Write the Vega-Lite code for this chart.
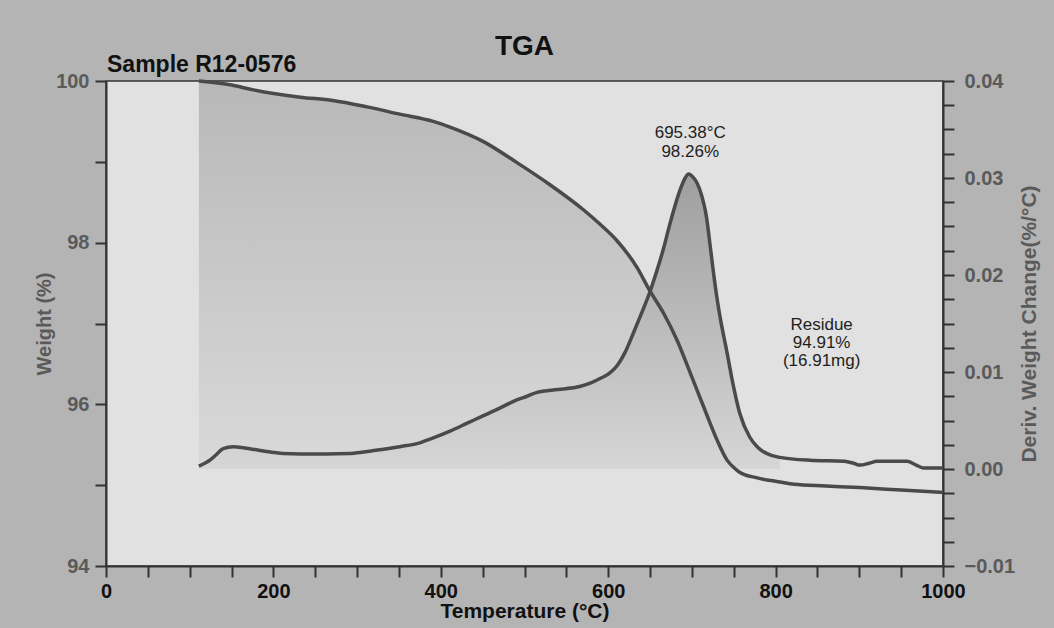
{
  "$schema": "https://vega.github.io/schema/vega-lite/v6.json",
  "width": 837,
  "height": 485,
  "autosize": {"type": "none"},
  "padding": {"left": 106, "top": 81, "right": 111, "bottom": 62},
  "background": "#b4b4b4",
  "config": {
    "view": {"fill": "#e1e1e1", "stroke": "#333333", "strokeWidth": 1.5},
    "font": "Liberation Sans"
  },
  "title": {
    "text": "TGA",
    "font": "Liberation Sans",
    "fontSize": 28,
    "fontWeight": "bold",
    "color": "#111111",
    "anchor": "middle",
    "frame": "group",
    "offset": -7
  },
  "datasets": {
    "tga": [
      {"T": 111, "W": 100.0},
      {"T": 150, "W": 99.95},
      {"T": 176, "W": 99.89},
      {"T": 232, "W": 99.8},
      {"T": 271, "W": 99.76},
      {"T": 312, "W": 99.68},
      {"T": 351, "W": 99.59},
      {"T": 391, "W": 99.5},
      {"T": 411, "W": 99.43},
      {"T": 451, "W": 99.25},
      {"T": 491, "W": 98.99},
      {"T": 530, "W": 98.72},
      {"T": 570, "W": 98.41},
      {"T": 590, "W": 98.23},
      {"T": 610, "W": 98.03},
      {"T": 634, "W": 97.7},
      {"T": 650, "W": 97.4},
      {"T": 666, "W": 97.13},
      {"T": 682, "W": 96.8},
      {"T": 698, "W": 96.39},
      {"T": 714, "W": 95.97},
      {"T": 730, "W": 95.56},
      {"T": 742, "W": 95.31},
      {"T": 752, "W": 95.2},
      {"T": 757, "W": 95.16},
      {"T": 778, "W": 95.09},
      {"T": 805, "W": 95.04},
      {"T": 822, "W": 95.01},
      {"T": 860, "W": 94.99},
      {"T": 901, "W": 94.97},
      {"T": 950, "W": 94.94},
      {"T": 1000, "W": 94.91}
    ],
    "deriv": [
      {"T": 111, "D": 0.0003},
      {"T": 118, "D": 0.0006},
      {"T": 124, "D": 0.0009},
      {"T": 132, "D": 0.0015},
      {"T": 140, "D": 0.0021},
      {"T": 152, "D": 0.0023},
      {"T": 164, "D": 0.0022},
      {"T": 178, "D": 0.002},
      {"T": 192, "D": 0.0018},
      {"T": 212, "D": 0.0016},
      {"T": 232, "D": 0.00155},
      {"T": 262, "D": 0.00155},
      {"T": 292, "D": 0.0016},
      {"T": 320, "D": 0.0019},
      {"T": 351, "D": 0.0023},
      {"T": 375, "D": 0.0027},
      {"T": 391, "D": 0.0032},
      {"T": 411, "D": 0.0039},
      {"T": 431, "D": 0.0047},
      {"T": 451, "D": 0.0055},
      {"T": 471, "D": 0.0063},
      {"T": 490, "D": 0.0071},
      {"T": 503, "D": 0.0075},
      {"T": 515, "D": 0.0079},
      {"T": 540, "D": 0.0082},
      {"T": 566, "D": 0.0085},
      {"T": 580, "D": 0.0089},
      {"T": 592, "D": 0.0094},
      {"T": 602, "D": 0.0099},
      {"T": 611, "D": 0.0107},
      {"T": 620, "D": 0.012},
      {"T": 630, "D": 0.014},
      {"T": 640, "D": 0.0161},
      {"T": 650, "D": 0.0183},
      {"T": 658, "D": 0.0204},
      {"T": 666, "D": 0.0227},
      {"T": 672, "D": 0.0247},
      {"T": 678, "D": 0.0266},
      {"T": 686, "D": 0.0288},
      {"T": 692, "D": 0.03},
      {"T": 696, "D": 0.0304},
      {"T": 700, "D": 0.0302},
      {"T": 706, "D": 0.0295},
      {"T": 712, "D": 0.0281},
      {"T": 717, "D": 0.0262},
      {"T": 722, "D": 0.0229},
      {"T": 726, "D": 0.0201},
      {"T": 730, "D": 0.0176},
      {"T": 734, "D": 0.0155},
      {"T": 742, "D": 0.012},
      {"T": 749, "D": 0.0088},
      {"T": 757, "D": 0.0058},
      {"T": 769, "D": 0.0033},
      {"T": 778, "D": 0.0023},
      {"T": 785, "D": 0.0018},
      {"T": 795, "D": 0.0014},
      {"T": 805, "D": 0.0012},
      {"T": 841, "D": 0.0009},
      {"T": 882, "D": 0.0008},
      {"T": 893, "D": 0.0006},
      {"T": 901, "D": 0.0004},
      {"T": 912, "D": 0.0006},
      {"T": 921, "D": 0.0008},
      {"T": 957, "D": 0.0008},
      {"T": 968, "D": 0.0004},
      {"T": 977, "D": 0.0001},
      {"T": 1000, "D": 0.0001}
    ],
    "notes": [
      {"T": 698, "D": 0.03464, "label": "695.38°C"},
      {"T": 698, "D": 0.03273, "label": "98.26%"},
      {"T": 855, "D": 0.01485, "label": "Residue"},
      {"T": 855, "D": 0.01299, "label": "94.91%"},
      {"T": 855, "D": 0.01113, "label": "(16.91mg)"}
    ],
    "header": [
      {"T": 0, "W": 100, "label": "Sample R12-0576"}
    ]
  },
  "encoding": {
    "x": {
      "field": "T",
      "type": "quantitative",
      "scale": {"domain": [0, 1000], "nice": false, "zero": false},
      "axis": {
        "title": "Temperature (°C)",
        "values": [0, 50, 100, 150, 200, 250, 300, 350, 400, 450, 500, 550, 600, 650, 700, 750, 800, 850, 900, 950, 1000],
        "format": "d",
        "labelExpr": "datum.value % 200 === 0 ? datum.label : ''",
        "labelOverlap": false,
        "labelFlush": false,
        "grid": false,
        "domainColor": "#333333",
        "domainWidth": 2,
        "tickColor": "#333333",
        "tickWidth": 2,
        "tickSize": 11,
        "labelFont": "Liberation Sans",
        "labelFontSize": 20,
        "labelFontWeight": "bold",
        "labelColor": "#111111",
        "labelPadding": 4,
        "titleFont": "Liberation Sans",
        "titleFontSize": 21,
        "titleFontWeight": "bold",
        "titleColor": "#111111",
        "titlePadding": -1
      }
    }
  },
  "layer": [
    {
      "data": {"name": "tga"},
      "transform": [{"filter": "datum.T <= 752"}],
      "mark": {
        "type": "area",
        "interpolate": "monotone",
        "color": {
          "gradient": "linear",
          "x1": 0, "y1": 0, "x2": 0, "y2": 1,
          "stops": [
            {"offset": 0, "color": "#b8b8b8"},
            {"offset": 1, "color": "#d9d9d9"}
          ]
        }
      },
      "encoding": {
        "y": {"field": "W", "type": "quantitative", "scale": {"domain": [94, 100], "nice": false, "zero": false}, "axis": null},
        "y2": {"datum": 95.2}
      }
    },
    {
      "data": {"name": "deriv"},
      "transform": [{"filter": "datum.T <= 805"}],
      "mark": {
        "type": "area",
        "interpolate": "monotone",
        "color": {
          "gradient": "linear",
          "x1": 0, "y1": 0, "x2": 0, "y2": 1,
          "stops": [
            {"offset": 0, "color": "#9f9f9f"},
            {"offset": 1, "color": "#d6d6d6"}
          ]
        }
      },
      "encoding": {
        "y": {"field": "D", "type": "quantitative", "scale": {"domain": [-0.01, 0.04], "nice": false, "zero": false}, "axis": null},
        "y2": {"datum": 0}
      }
    },
    {
      "data": {"name": "tga"},
      "mark": {"type": "line", "interpolate": "monotone", "color": "#4a4a4a", "strokeWidth": 3.5},
      "encoding": {
        "y": {
          "field": "W",
          "type": "quantitative",
          "scale": {"domain": [94, 100], "nice": false, "zero": false},
          "axis": {
            "orient": "left",
            "title": "Weight (%)",
            "values": [94, 94.5, 95, 95.5, 96, 96.5, 97, 97.5, 98, 98.5, 99, 99.5, 100],
            "format": "d",
            "labelExpr": "datum.value % 2 === 0 ? datum.label : ''",
            "labelOverlap": false,
            "labelFlush": false,
            "grid": false,
            "domainColor": "#333333",
            "domainWidth": 2,
            "tickColor": "#333333",
            "tickWidth": 2,
            "tickSize": 11,
            "labelFont": "Liberation Sans",
            "labelFontSize": 20,
            "labelFontWeight": "bold",
            "labelColor": "#5a5a5a",
            "labelPadding": 6,
            "titleFont": "Liberation Sans",
            "titleFontSize": 20,
            "titleFontWeight": "bold",
            "titleColor": "#5a5a5a",
            "titlePadding": 1
          }
        }
      }
    },
    {
      "data": {"name": "deriv"},
      "mark": {"type": "line", "interpolate": "monotone", "color": "#4a4a4a", "strokeWidth": 3.5},
      "encoding": {
        "y": {
          "field": "D",
          "type": "quantitative",
          "scale": {"domain": [-0.01, 0.04], "nice": false, "zero": false},
          "axis": {
            "orient": "right",
            "title": "Deriv. Weight Change(%/°C)",
            "values": [-0.01, -0.0075, -0.005, -0.0025, 0, 0.0025, 0.005, 0.0075, 0.01, 0.0125, 0.015, 0.0175, 0.02, 0.0225, 0.025, 0.0275, 0.03, 0.0325, 0.035, 0.0375, 0.04],
            "format": ".2f",
            "labelExpr": "abs(datum.value * 100 - round(datum.value * 100)) < 0.001 ? datum.label : ''",
            "labelOverlap": false,
            "labelFlush": false,
            "grid": false,
            "domainColor": "#333333",
            "domainWidth": 2,
            "tickColor": "#333333",
            "tickWidth": 2,
            "tickSize": 11,
            "labelFont": "Liberation Sans",
            "labelFontSize": 20,
            "labelFontWeight": "bold",
            "labelColor": "#5a5a5a",
            "labelPadding": 10,
            "titleFont": "Liberation Sans",
            "titleFontSize": 21,
            "titleFontWeight": "bold",
            "titleColor": "#5a5a5a",
            "titleAngle": 270,
            "titleBaseline": "top",
            "titlePadding": 4
          }
        }
      }
    },
    {
      "data": {"name": "notes"},
      "mark": {"type": "text", "font": "Liberation Sans", "fontSize": 17, "color": "#1e1e1e", "align": "center", "baseline": "middle"},
      "encoding": {
        "y": {"field": "D", "type": "quantitative", "scale": {"domain": [-0.01, 0.04], "nice": false, "zero": false}, "axis": null},
        "text": {"field": "label"}
      }
    },
    {
      "data": {"name": "header"},
      "mark": {"type": "text", "font": "Liberation Sans", "fontSize": 23, "fontWeight": "bold", "color": "#111111", "align": "left", "baseline": "alphabetic", "dx": 1, "dy": -9},
      "encoding": {
        "y": {"field": "W", "type": "quantitative", "scale": {"domain": [94, 100], "nice": false, "zero": false}, "axis": null},
        "text": {"field": "label"}
      }
    }
  ],
  "resolve": {"scale": {"y": "independent"}}
}
